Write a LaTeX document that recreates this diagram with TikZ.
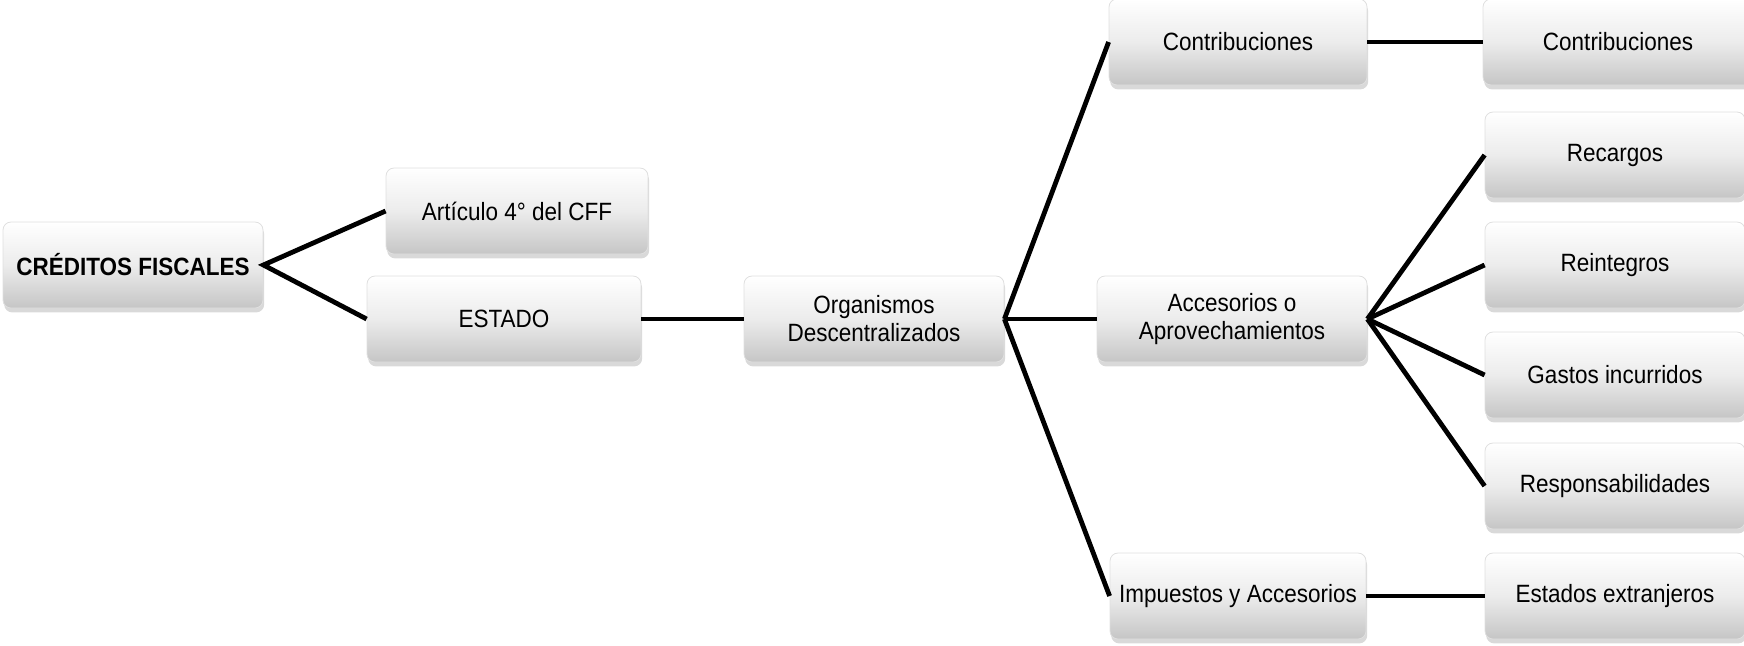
\documentclass[tikz,border=0pt]{standalone}
\usepackage{fontspec}
\setmainfont[FakeStretch=0.9]{Liberation Sans}
\usetikzlibrary{shadows}

\tikzset{
  caja/.style={rectangle, rounded corners=4pt, draw=gray!25, line width=0.4pt,
    top color=white, bottom color=gray!45, middle color=gray!15,
    drop shadow={opacity=0.3, shadow xshift=0.6pt, shadow yshift=-2.2pt},
    minimum height=43pt, align=center, inner sep=2pt,
    font=\fontsize{12.5}{14}\selectfont},
  enlace/.style={line width=2.4pt, black}
}

\begin{document}
\begin{tikzpicture}[x=0.5pt, y=-0.5pt]
\useasboundingbox (0,0) rectangle (1744,645);

% nivel 1 y 2
\node[caja, minimum width=130pt, font=\fontsize{12.5}{14}\selectfont\bfseries] (cf) at (133,265) {CRÉDITOS FISCALES};
\node[caja, minimum width=131pt] (art) at (517,211) {Artículo 4° del CFF};
\node[caja, minimum width=137pt] (est) at (504,319) {ESTADO};
\node[caja, minimum width=130pt] (org) at (874,319) {Organismos\\Descentralizados};

% nivel 3
\node[caja, minimum width=129pt] (con) at (1238,42) {Contribuciones};
\node[caja, minimum width=135pt] (acc) at (1232,319) {Accesorios o\\Aprovechamientos};
\node[caja, minimum width=128pt] (imp) at (1238,596) {Impuestos y Accesorios};

% nivel 4
\node[caja, minimum width=135pt] (conb) at (1618,42) {Contribuciones};
\node[caja, minimum width=130pt] (rec) at (1615,155) {Recargos};
\node[caja, minimum width=130pt] (rei) at (1615,265) {Reintegros};
\node[caja, minimum width=130pt] (gas) at (1615,375) {Gastos incurridos};
\node[caja, minimum width=130pt] (res) at (1615,486) {Responsabilidades};
\node[caja, minimum width=130pt] (ext) at (1615,596) {Estados extranjeros};

% conectores
\draw[enlace] (art.west) -- (cf.east) -- (est.west);
\draw[enlace] (est.east) -- (org.west);
\foreach \n in {con, acc, imp}
  \draw[enlace] (org.east) -- (\n.west);
\draw[enlace] (con.east) -- (conb.west);
\foreach \n in {rec, rei, gas, res}
  \draw[enlace] (acc.east) -- (\n.west);
\draw[enlace] (imp.east) -- (ext.west);
\end{tikzpicture}
\end{document}
